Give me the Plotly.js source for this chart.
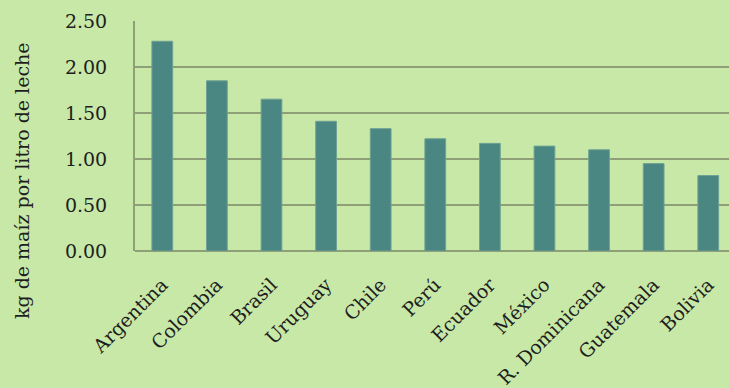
<!DOCTYPE html>
<html>
<head>
<meta charset="utf-8">
<script src="https://cdn.plot.ly/plotly-3.0.1.min.js"></script>
<style>html,body{margin:0;padding:0;background:#c8e8a7;}#chart{width:729px;height:388px;}</style>
</head>
<body>
<div id="chart"></div>
<script>
const countries = ["Argentina","Colombia","Brasil","Uruguay","Chile","Perú","Ecuador","México","R. Dominicana","Guatemala","Bolivia"];
const kgPerLitre = [2.28, 1.85, 1.65, 1.41, 1.33, 1.22, 1.17, 1.14, 1.10, 0.95, 0.82];
const yTickValues = [0, 0.5, 1, 1.5, 2, 2.5];
const yTickLabels = ["0.00","0.50","1.00","1.50","2.00","2.50"];
const yTitle = "kg de maíz por litro de leche";

const fontFam = "DejaVu Serif, serif";
const textColor = "#1e1e1e";
const trace = {
  type: "bar",
  x: countries,
  y: kgPerLitre,
  width: 0.38,
  marker: {color: "#4a8682", line: {color: "#6fa293", width: 1}},
  hoverinfo: "skip"
};
const layout = {
  width: 729, height: 388,
  margin: {l: 135, r: 0, t: 21, b: 137},
  paper_bgcolor: "#c8e8a7",
  plot_bgcolor: "#c8e8a7",
  showlegend: false,
  xaxis: {
    type: "category",
    range: [-0.5, 10.38],
    showgrid: false,
    showline: false,
    zeroline: false,
    tickangle: -45,
    ticks: "",
    ticklabelstandoff: 18,
    tickfont: {family: fontFam, size: 19, color: textColor},
    automargin: false,
    fixedrange: true
  },
  yaxis: {
    range: [0, 2.5],
    tickvals: yTickValues,
    ticktext: yTickLabels,
    showgrid: true,
    gridcolor: "#8f9f77",
    gridwidth: 2,
    zeroline: true,
    zerolinecolor: "#8f9f77",
    zerolinewidth: 2,
    showline: true,
    linecolor: "#8f9f77",
    linewidth: 2,
    ticks: "",
    ticklabelstandoff: 22,
    tickfont: {family: fontFam, size: 19, color: textColor},
    automargin: false,
    fixedrange: true
  },
  annotations: [{
    text: yTitle,
    xref: "paper", yref: "paper",
    x: 0, y: 0.304,
    xshift: -113,
    xanchor: "center", yanchor: "middle",
    textangle: -90,
    showarrow: false,
    font: {family: fontFam, size: 19, color: textColor}
  }]
};
Plotly.newPlot("chart", [trace], layout, {displayModeBar: false, staticPlot: true});
</script>
</body>
</html>
